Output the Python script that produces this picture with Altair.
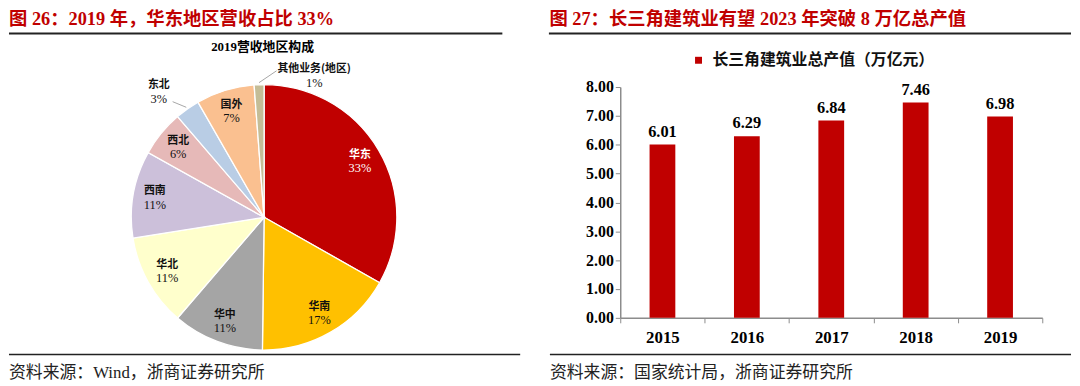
import altair as alt
import pandas as pd

# ---------------- data ----------------
regions = ["华东", "华南", "华中", "华北", "西南", "西北", "东北", "国外", "其他业务(地区)"]
shares = [33.2, 17.0, 11.1, 11.2, 10.6, 5.6, 3.0, 7.1, 1.2]
share_labels = ["33%", "17%", "11%", "11%", "11%", "6%", "3%", "7%", "1%"]
region_colors = ["#C00000", "#FFC000", "#A5A5A5", "#FFFFCC", "#CCC0DA",
                 "#E6B9B8", "#B9CDE5", "#FAC090", "#C4BD97"]

years = ["2015", "2016", "2017", "2018", "2019"]
output_value = [6.01, 6.29, 6.84, 7.46, 6.98]
series_name = "长三角建筑业总产值（万亿元）"
y_ticks = [0, 1, 2, 3, 4, 5, 6, 7, 8]

titles = ["图 26：2019 年，华东地区营收占比 33%",
          "图 27：长三角建筑业有望 2023 年突破 8 万亿总产值"]
pie_title = "2019营收地区构成"
sources = ["资料来源：Wind，浙商证券研究所",
           "资料来源：国家统计局，浙商证券研究所"]

# ---------------- styles ----------------
RED = "#C00000"
GRAY = "#8C8C8C"
SERIF = "'Liberation Serif', 'Noto Sans CJK SC'"
CJK = "'Noto Sans CJK SC'"
LW, RW, H = 536, 426, 233
CX, CY, R = 257.5, 131.5, 134
TITLE_Y = -62.7

one = pd.DataFrame({"k": [0]})


def text_layer(txt, x, y, **kw):
    return alt.Chart(pd.DataFrame({"t": [txt]})).mark_text(**kw).encode(
        text="t:N", x=alt.value(x), y=alt.value(y))


def rule_layer(x1, x2, y, width, color="#222"):
    return alt.Chart(one).mark_rule(color=color, strokeWidth=width).encode(
        x=alt.value(x1), x2=alt.value(x2), y=alt.value(y))


# ---------------- left panel: pie ----------------
pie_df = pd.DataFrame({"region": regions, "share": shares,
                       "label": share_labels, "idx": list(range(len(regions)))})

pie_base = (
    alt.Chart(pie_df)
    .transform_joinaggregate(total="sum(share)")
    .transform_window(cum="sum(share)", sort=[alt.SortField("idx")])
    .transform_calculate(a1="datum.cum / datum.total * 2 * PI",
                         a0="(datum.cum - datum.share) / datum.total * 2 * PI")
    .transform_calculate(am="(datum.a0 + datum.a1) / 2")
)

arcs = pie_base.mark_arc(outerRadius=R, stroke="white", strokeWidth=1.3).encode(
    theta=alt.Theta("a0:Q", scale=None, stack=False),
    theta2=alt.Theta2("a1:Q"),
    color=alt.Color("region:N", scale=alt.Scale(domain=regions, range=region_colors), legend=None),
    x=alt.value(CX), y=alt.value(CY),
)

inner_filter = "datum.region !== '东北' && datum.region !== '其他业务(地区)'"
label_color = alt.condition("datum.region === '华东'", alt.value("white"), alt.value("#111111"))

inner_names = pie_base.transform_filter(inner_filter).mark_text(
    radius=112, dy=-6.5, fontSize=11, fontWeight="bold", font=CJK).encode(
    theta=alt.Theta("am:Q", scale=None, stack=False), text="region:N",
    color=label_color, x=alt.value(CX), y=alt.value(CY))
inner_pcts = pie_base.transform_filter(inner_filter).mark_text(
    radius=112, dy=7, fontSize=12.5, font=SERIF).encode(
    theta=alt.Theta("am:Q", scale=None, stack=False), text="label:N",
    color=label_color, x=alt.value(CX), y=alt.value(CY))


def outer_label(region, radius, dx, dy, ldx, ldy):
    base = pie_base.transform_filter(f"datum.region === '{region}'")
    name = base.mark_text(radius=radius, dx=dx, dy=dy - 6.5, fontSize=11,
                          fontWeight="bold", font=CJK, color="#111111").encode(
        theta=alt.Theta("am:Q", scale=None, stack=False), text="region:N",
        x=alt.value(CX), y=alt.value(CY))
    pct = base.mark_text(radius=radius, dx=dx, dy=dy + 7, fontSize=12.5,
                         font=SERIF, color="#111111").encode(
        theta=alt.Theta("am:Q", scale=None, stack=False), text="label:N",
        x=alt.value(CX), y=alt.value(CY))
    leader = base.transform_calculate(
        lx1=f"{CX} + {R + 2} * sin(datum.am)",
        ly1=f"{CY} - {R + 2} * cos(datum.am)",
        lx2=f"{CX} + {radius} * sin(datum.am) + {dx + ldx}",
        ly2=f"{CY} - {radius} * cos(datum.am) + {dy + ldy}",
    ).mark_rule(color="#A6A6A6", strokeWidth=1).encode(
        x=alt.X("lx1:Q", scale=None, axis=None), y=alt.Y("ly1:Q", scale=None, axis=None),
        x2="lx2:Q", y2="ly2:Q")
    return [leader, name, pct]


left = alt.layer(
    text_layer(titles[0], 0, TITLE_Y, align="left", baseline="alphabetic", fontSize=18.5,
               fontWeight="bold", color=RED, font=SERIF),
    rule_layer(0, 498, -54, 2),
    text_layer(pie_title, 256, -40, align="center", baseline="middle", fontSize=13,
               fontWeight="bold", color="#000", font=SERIF),
    arcs, inner_names, inner_pcts,
    *outer_label("东北", 165, -11, 8, 14, 10),
    *outer_label("其他业务(地区)", 143, 56, 0, -38, -5),
    rule_layer(0, 516, 270, 1.5),
    text_layer(sources[0], 0, 294, align="left", baseline="alphabetic", fontSize=17,
               color="#222", font=SERIF),
).properties(width=LW, height=H)

# ---------------- right panel: bars ----------------
bar_df = pd.DataFrame({"year": years, "value": output_value})
bar_base = alt.Chart(bar_df).transform_calculate(series=f"'{series_name}'")

x_enc = alt.X("year:O", scale=alt.Scale(paddingInner=0, paddingOuter=0),
              axis=alt.Axis(title=None, labelAngle=0, labelFont=SERIF, labelFontSize=17,
                            labelFontWeight="bold", labelColor="#000", tickBand="extent",
                            tickSize=5, tickColor=GRAY, domainColor=GRAY, domainWidth=1.5,
                            labelPadding=7))
y_enc = alt.Y("value:Q", scale=alt.Scale(domain=[0, 8], nice=False),
              axis=alt.Axis(title=None, values=y_ticks, tickCount=9, format=".2f",
                            grid=False, labelOverlap=False, labelFont=SERIF,
                            labelFontSize=16, labelFontWeight="bold", labelColor="#000",
                            tickSize=5, tickColor=GRAY, domainColor=GRAY,
                            domainWidth=1.5, labelPadding=2))

bars = bar_base.mark_bar(size=26).encode(
    x=x_enc, y=y_enc,
    color=alt.Color("series:N", scale=alt.Scale(domain=[series_name], range=[RED]),
                    legend=alt.Legend(orient="none", legendX=71, legendY=-35, title=None,
                                      symbolType="square", symbolSize=49,
                                      symbolStrokeWidth=0, labelFontSize=16,
                                      labelFont=CJK, labelFontWeight="bold",
                                      labelColor="#111", labelLimit=400, labelOffset=6,
                                      padding=0, direction="horizontal")),
)

bar_labels = bar_base.mark_text(dy=-8, baseline="alphabetic", fontSize=16.5,
                                fontWeight="bold", font=SERIF, color="#000").encode(
    x=x_enc, y=y_enc, text=alt.Text("value:Q", format=".2f"))

right = alt.layer(
    text_layer(titles[1], -71.5, TITLE_Y, align="left", baseline="alphabetic", fontSize=18.5,
               fontWeight="bold", color=RED, font=SERIF),
    rule_layer(-72, 455, -54, 2),
    bars, bar_labels,
    rule_layer(-71, 455, 270, 1.5),
    text_layer(sources[1], -71, 294, align="left", baseline="alphabetic", fontSize=17,
               color="#222", font=SERIF),
).properties(width=RW, height=H)

chart = (
    alt.hconcat(left, right, spacing=81)
    .properties(bounds="flush", padding=0)
    .resolve_scale(color="independent")
    .resolve_legend(color="independent")
    .configure_view(strokeWidth=0)
)

chart.save("out.html", embed_options={"renderer": "svg", "actions": False})
